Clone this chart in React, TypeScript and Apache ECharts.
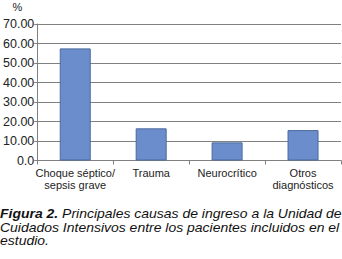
import React, { useEffect, useRef } from "react";
import * as echarts from "echarts";

const categories = ["Choque séptico/\nsepsis grave", "Trauma", "Neurocrítico", "Otros\ndiagnósticos"];
const values = [57.5, 16.5, 9.3, 15.6];
const yMax = 70;
const yStep = 10;
const captionBold = "Figura 2.";
const captionLines = [
  " Principales causas de ingreso a la Unidad de",
  "Cuidados Intensivos entre los pacientes incluidos en el",
  "estudio.",
];

const FONT = "'Liberation Sans', Arial, Helvetica, sans-serif";

export default function App() {
  const ref = useRef<HTMLDivElement>(null);
  useEffect(() => {
    if (!ref.current) return;
    const chart = echarts.init(ref.current, null, { renderer: "svg" });
    chart.setOption({
      animation: false,
      grid: { left: 35, right: 1, top: 24, bottom: 98.5, containLabel: false },
      xAxis: {
        type: "category",
        data: categories,
        axisLine: { lineStyle: { color: "#808080", width: 1 } },
        axisTick: { show: true, alignWithLabel: false, length: 4, lineStyle: { color: "#808080" } },
        axisLabel: {
          interval: 0,
          margin: 6,
          color: "#222",
          fontSize: 11,
          fontFamily: FONT,
          lineHeight: 12.5,
        },
      },
      yAxis: {
        type: "value",
        min: 0,
        max: yMax,
        interval: yStep,
        name: "%",
        nameLocation: "end",
        nameGap: 12,
        nameTextStyle: { color: "#222", fontSize: 11, fontFamily: FONT, align: "right", padding: [0, 15, 0, 0] },
        axisLine: { show: true, lineStyle: { color: "#808080", width: 1 } },
        axisTick: { show: true, length: 3, lineStyle: { color: "#808080" } },
        axisLabel: {
          margin: 3,
          color: "#222",
          fontSize: 12.5,
          fontFamily: FONT,
          formatter: (v: number) => (v === 0 ? "0.0" : v.toFixed(2)),
        },
        splitLine: { show: true, lineStyle: { color: "#808080", width: 1 } },
      },
      series: [
        {
          type: "bar",
          data: values,
          barWidth: 31,
          itemStyle: { color: "#6b8dcb", borderColor: "#4a6a9e", borderWidth: 1 },
        },
      ],
      graphic: [
        {
          type: "text",
          x: 0,
          y: 207,
          scaleX: 1.075,
          style: {
            text: "{b|" + captionBold + "}{i|" + captionLines[0] + "}\n{i|" + captionLines[1] + "}\n{i|" + captionLines[2] + "}",
            rich: {
              b: { fontSize: 13, fontStyle: "italic", fontWeight: "bold", fontFamily: FONT, fill: "#111", lineHeight: 13.5 },
              i: { fontSize: 13, fontStyle: "italic", fontFamily: FONT, fill: "#111", lineHeight: 13.5 },
            },
          },
        },
      ],
    });
    return () => chart.dispose();
  }, []);
  return <div ref={ref} style={{ position: "fixed", left: 0, top: 0, width: 342, height: 259, background: "#fff" }} />;
}
